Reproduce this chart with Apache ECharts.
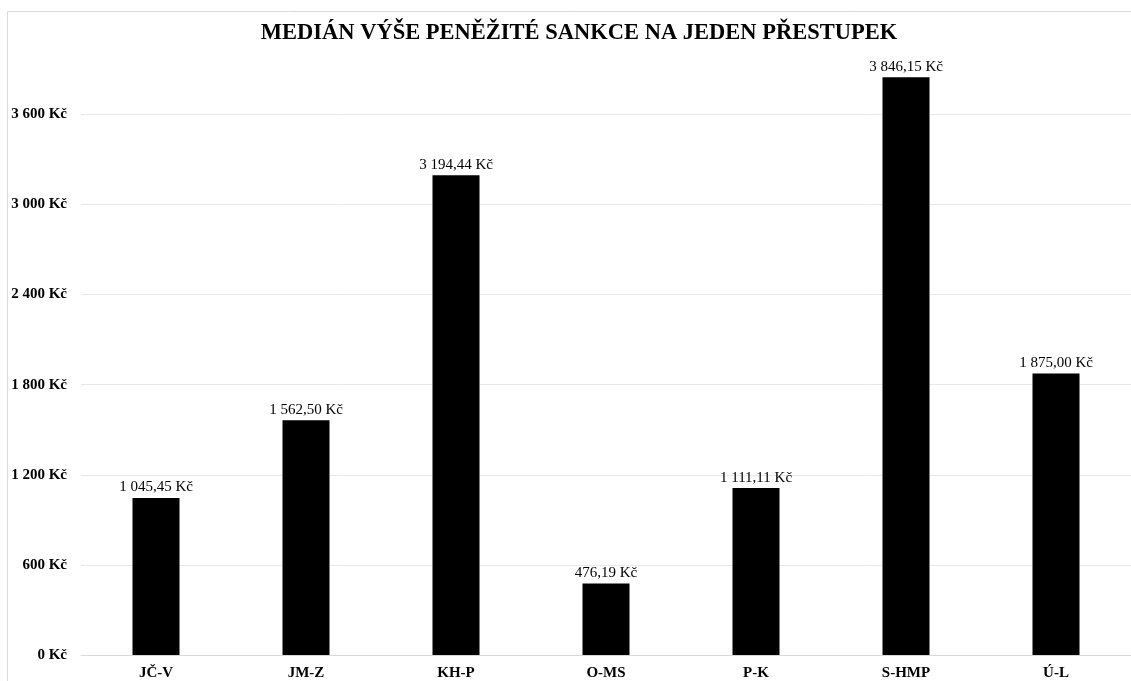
<!DOCTYPE html>
<html>
<head>
<meta charset="utf-8">
<script src="https://cdn.jsdelivr.net/npm/echarts@6/dist/echarts.min.js"></script>
<style>
  html, body { margin: 0; padding: 0; background: #fff; }
  #chart { width: 1131px; height: 681px; }
</style>
</head>
<body>
<div id="chart"></div>
<script>
// Kraje (zkratky) a medián sankce
const categories = ['JČ-V', 'JM-Z', 'KH-P', 'O-MS', 'P-K', 'S-HMP', 'Ú-L']
const medianValues = [1045.45, 1562.50, 3194.44, 476.19, 1111.11, 3846.15, 1875.00]

const FONT = '"Liberation Serif", "Times New Roman", serif'

// 1234.5 -> "1 234,50 Kč"
function fmtMoney(v, decimals) {
  const parts = v.toFixed(decimals).split('.')
  const intPart = parts[0].replace(/\B(?=(\d{3})+(?!\d))/g, ' ')
  return (parts[1] ? intPart + ',' + parts[1] : intPart) + ' Kč'
}

const chart = echarts.init(document.getElementById('chart'))

chart.setOption({
  animation: false,
  title: {
    text: 'MEDIÁN VÝŠE PENĚŽITÉ SANKCE NA JEDEN PŘESTUPEK',
    left: 574,
    top: 17,
    textAlign: 'center',
    textStyle: { fontFamily: FONT, fontSize: 22.5, fontWeight: 'bold', color: '#000' },
  },
  graphic: [{
    type: 'rect',
    shape: { x: 7.5, y: 11.5, width: 1200, height: 700 },
    style: { fill: 'none', stroke: '#d9d9d9', lineWidth: 1 },
    silent: true,
  }],
  grid: { left: 81, right: -3, top: 69.25, bottom: 23.5, containLabel: false },
  xAxis: {
    type: 'category',
    data: categories,
    axisLine: { show: true, lineStyle: { color: '#d9d9d9' } },
    axisTick: { show: false },
    axisLabel: { fontFamily: FONT, fontSize: 15, fontWeight: 'bold', color: '#000', margin: 11 },
  },
  yAxis: {
    type: 'value',
    min: 0,
    max: 3900,
    interval: 600,
    axisLine: { show: false },
    axisTick: { show: false },
    axisLabel: {
      fontFamily: FONT, fontSize: 15, fontWeight: 'bold', color: '#000', margin: 14,
      showMaxLabel: false,
      formatter: v => fmtMoney(v, 0),
    },
    splitLine: { show: true, showMaxLine: false, lineStyle: { color: '#e8e8e8' } },
  },
  series: [{
    type: 'bar',
    data: medianValues,
    barWidth: 47,
    itemStyle: { color: '#000' },
    label: {
      show: true,
      position: 'top',
      distance: 3,
      fontFamily: FONT,
      fontSize: 15,
      color: '#000',
      formatter: p => fmtMoney(p.value, 2),
    },
  }],
})
</script>
</body>
</html>
